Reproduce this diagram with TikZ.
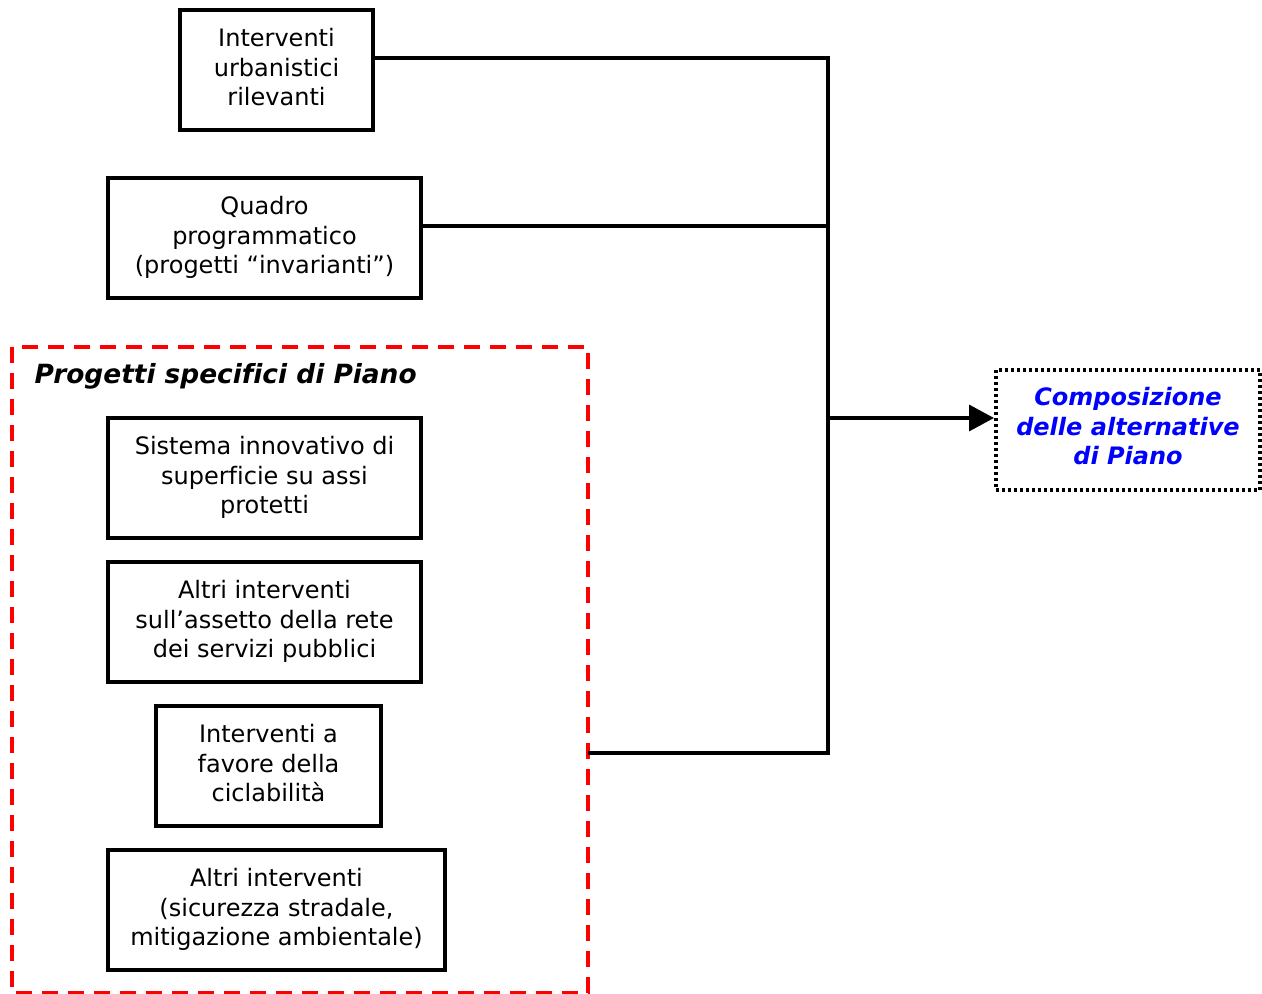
\documentclass[tikz,border=0pt]{standalone}
\usepackage{fontspec}
\setmainfont{DejaVu Sans}[Ligatures=NoCommon]
\usepackage{tikz}
\usetikzlibrary{arrows.meta,positioning}

\begin{document}
\begin{tikzpicture}[x=0.5pt, y=-0.5pt, line width=1.75pt]
\useasboundingbox (0,0) rectangle (1262,994);
\tikzstyle{every node} = [font=\fontsize{12}{14.6}\selectfont, align=center, inner sep=0pt]
\tikzstyle{box} = [draw, minimum height=60pt, text depth=3pt]
% blocchi in alto
\node[box, minimum width=96.5pt] (urb) at (276.5,70) {Interventi\\urbanistici\\rilevanti};
\node[box, minimum width=156.5pt] (quadro) at (264.5,238) {Quadro\\programmatico\\(progetti “invarianti”)};
% progetti specifici
\draw[red, dash pattern=on 8pt off 5pt] (12,347) rectangle (588,993);
\coordinate (psp) at (588,753);
\node[anchor=west, font=\fontsize{13.2}{15}\selectfont\bfseries\itshape] (titolo) at (33,376) {Progetti specifici di Piano};
\node[box, minimum width=156.5pt] (sist) at (264.5,478) {Sistema innovativo di\\superficie su assi\\protetti};
\node[box, minimum width=156.5pt] (rete) at (264.5,622) {Altri interventi\\sull’assetto della rete\\dei servizi pubblici};
\node[box, minimum width=112.5pt] (cicl) at (268.5,766) {Interventi a\\favore della\\ciclabilità};
\node[box, minimum width=168.5pt] (altri) at (276.5,910) {Altri interventi\\(sicurezza stradale,\\mitigazione ambientale)};
% risultato
\node[draw, line width=2pt, dash pattern=on 1.5pt off 1.5pt, minimum width=132pt, minimum height=60pt,
  text depth=4pt, text=blue, font=\fontsize{12}{14.6}\selectfont\bfseries\itshape] (comp) at (1128,430) {Composizione\\delle alternative\\di Piano};
% collegamenti
\coordinate (j1) at (828,58);
\coordinate (j2) at (828,226);
\coordinate (j3) at (828,753);
\coordinate (j4) at (828,418);
\draw (urb.east |- j1) -- (j1) -- (j3) -- (psp);
\draw (quadro.east |- j2) -- (j2);
\draw[-{Triangle[length=12.5pt,width=13pt]}] (j4) -- (comp.west |- j4);
\end{tikzpicture}
\end{document}
